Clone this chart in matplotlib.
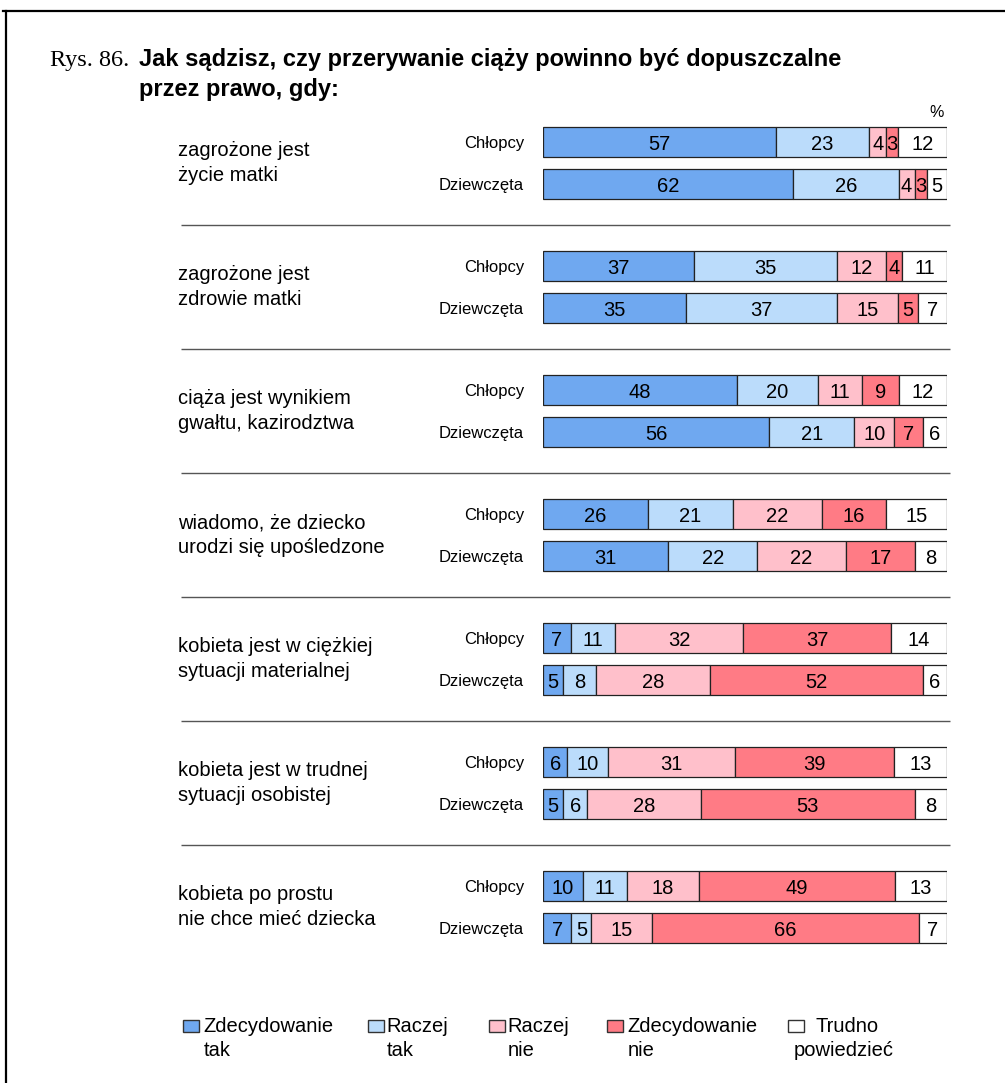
# Rys. 86 - stacked 100% bars: abortion opinions, boys vs girls
import matplotlib.pyplot as plt
import matplotlib.transforms as mtransforms
import numpy as np
from matplotlib.lines import Line2D
from matplotlib.patches import Rectangle

plt.rcParams["font.family"] = ["Liberation Sans", "DejaVu Sans"]

W, H = 1005, 1083  # output size in pixels

QUESTIONS = [
    "zagrożone jest\nżycie matki",
    "zagrożone jest\nzdrowie matki",
    "ciąża jest wynikiem\ngwałtu, kazirodztwa",
    "wiadomo, że dziecko\nurodzi się upośledzone",
    "kobieta jest w ciężkiej\nsytuacji materialnej",
    "kobieta jest w trudnej\nsytuacji osobistej",
    "kobieta po prostu\nnie chce mieć dziecka",
]
GROUPS = ["Chłopcy", "Dziewczęta"]
ANSWERS = ["Zdecydowanie\ntak", "Raczej\ntak", "Raczej\nnie", "Zdecydowanie\nnie", "Trudno\npowiedzieć"]

# percentages per answer, in ANSWERS order
BOYS = [
    [57, 23, 4, 3, 12],
    [37, 35, 12, 4, 11],
    [48, 20, 11, 9, 12],
    [26, 21, 22, 16, 15],
    [7, 11, 32, 37, 14],
    [6, 10, 31, 39, 13],
    [10, 11, 18, 49, 13],
]
GIRLS = [
    [62, 26, 4, 3, 5],
    [35, 37, 15, 5, 7],
    [56, 21, 10, 7, 6],
    [31, 22, 22, 17, 8],
    [5, 8, 28, 52, 6],
    [5, 6, 28, 53, 8],
    [7, 5, 15, 66, 7],
]

COLORS = ["#6fa8f0", "#bbdcfb", "#ffc0cb", "#ff7b85", "#ffffff"]


def fx(px):
    return px / W


def fy(py):
    return 1 - py / H


fig = plt.figure(figsize=(W / 100, H / 100), dpi=100)

# bar area: x 543..947 px, groups between y 101..969 px
ax = fig.add_axes([fx(543), fy(969), (947 - 543) / W, (969 - 101) / H])
ax.set_xlim(0, 100)
ax.set_ylim(len(QUESTIONS) - 0.5, -0.5)
ax.axis("off")
blend = mtransforms.blended_transform_factory(fig.transFigure, ax.transData)


def px2x(px):
    return (px - 543) / 404 * 100


off = 21 / 124  # row offset from group centre
bh = 30 / 124  # bar height
for g, q in enumerate(QUESTIONS):
    for name, vals, yoff in ((GROUPS[0], BOYS[g], -off), (GROUPS[1], GIRLS[g], off)):
        vals = np.array(vals, dtype=float)
        share = vals / vals.sum() * 100  # each row fills the full width
        left = np.concatenate([[0], np.cumsum(share)[:-1]])
        y = g + yoff
        ax.barh(y, share, left=left, height=bh, color=COLORS,
                edgecolor="#222222", linewidth=0.9)
        for v, l, s in zip(vals, left, share):
            ax.text(l + s / 2, y, f"{v:.0f}", ha="center", va="center_baseline",
                    fontsize=14.5)
        ax.text(fx(524), y, name, transform=blend, ha="right", va="center_baseline",
                fontsize=12)
    ax.text(fx(178), g, q, transform=blend, ha="left", va="center", fontsize=14.5,
            linespacing=1.4)

# separators between questions
ax.hlines(np.arange(len(QUESTIONS) - 1) + 0.5, px2x(181), px2x(950),
          color="#555555", linewidth=1, clip_on=False)

# title
fig.text(fx(50), fy(66), "Rys. 86.", family="Liberation Serif", fontsize=17.5,
         va="baseline")
fig.text(fx(139), fy(66), "Jak sądzisz, czy przerywanie ciąży powinno być dopuszczalne",
         fontsize=17, fontweight="bold", va="baseline")
fig.text(fx(139), fy(96), "przez prawo, gdy:", fontsize=17, fontweight="bold",
         va="baseline")
fig.text(fx(937), fy(117), "%", fontsize=11.5, ha="center", va="baseline")

# legend
patch_x = [183, 368, 489, 607, 788]
text_x = [203, 386, 507, 627, 793]
for i, lab in enumerate(ANSWERS):
    fig.add_artist(Rectangle((fx(patch_x[i]), fy(1032)), 16 / W, 12 / H,
                             transform=fig.transFigure, facecolor=COLORS[i],
                             edgecolor="#333333", linewidth=1))
    first, second = lab.split("\n")
    x1 = 815 if i == 4 else text_x[i]
    fig.text(fx(x1), fy(1027), first, fontsize=14.5, va="center")
    fig.text(fx(text_x[i] + 1), fy(1050), second, fontsize=14.5, va="center")

# frame (top and left)
fig.add_artist(Line2D([fx(3), fx(1005)], [fy(11), fy(11)], color="black", linewidth=1.6,
                      transform=fig.transFigure))
fig.add_artist(Line2D([fx(6), fx(6)], [fy(11), fy(1083)], color="black", linewidth=1.6,
                      transform=fig.transFigure))

fig.savefig("out.png", dpi=100, facecolor="white")
